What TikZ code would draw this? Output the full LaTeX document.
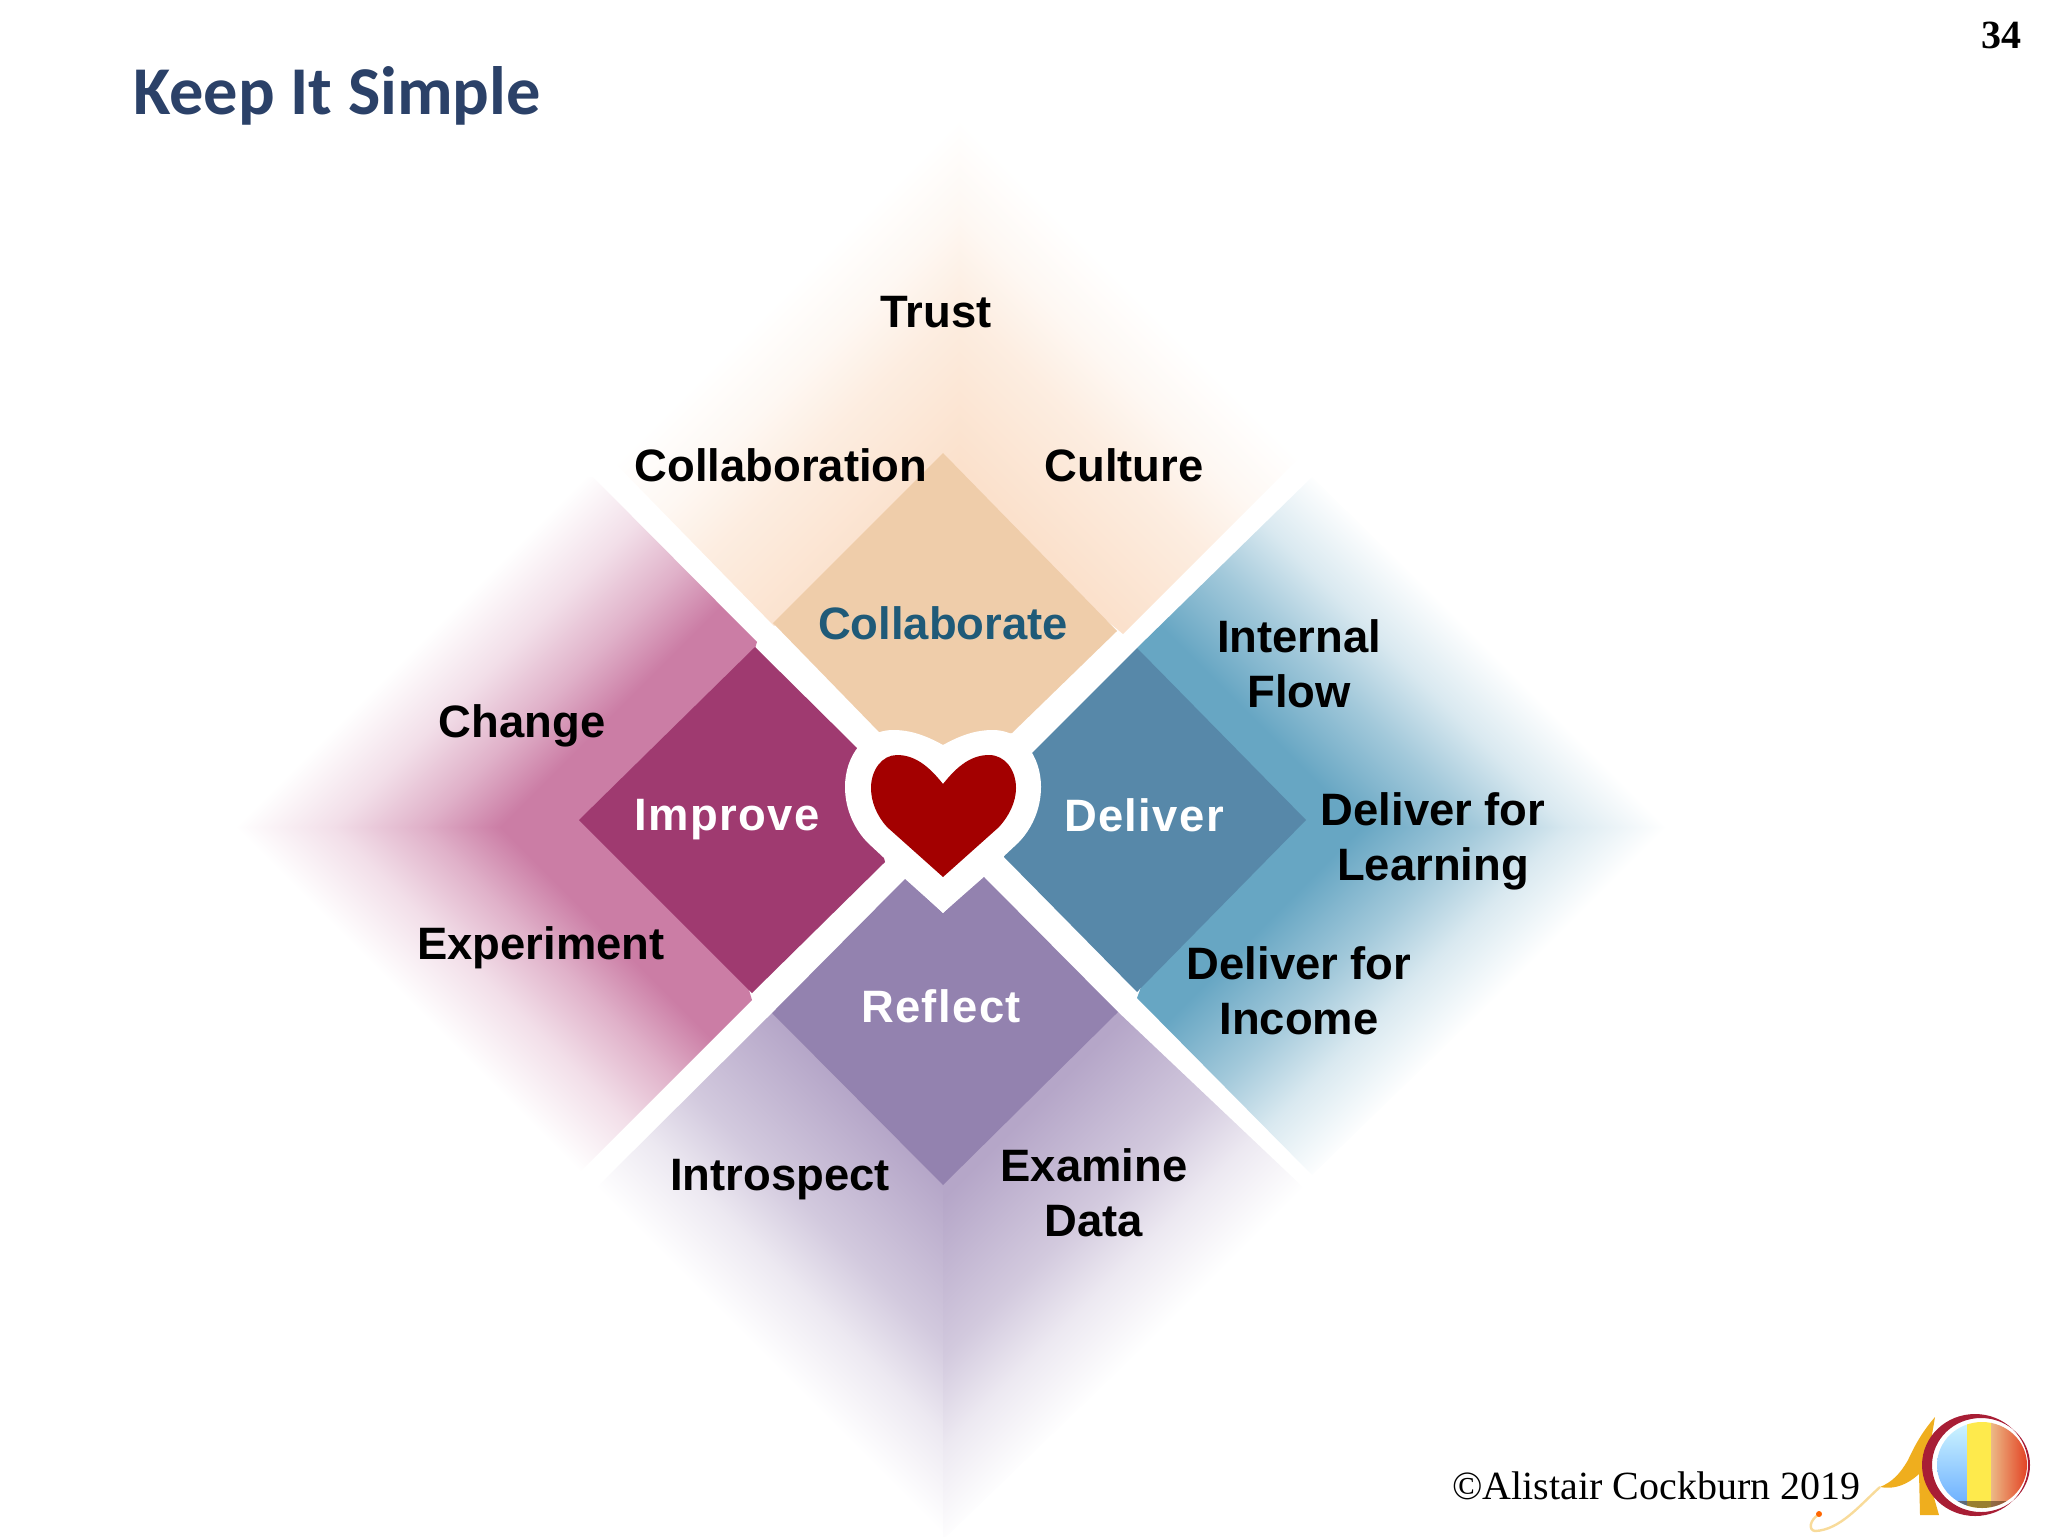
\documentclass[tikz,border=0pt]{standalone}
\usepackage{fontspec}
\setmainfont{Liberation Sans}
\newfontfamily\titlefont{Carlito}
\newfontfamily\footfont{Liberation Serif}
\newfontfamily\spacedfont[LetterSpace=3]{Liberation Sans}
\definecolor{pinkpale}{HTML}{CB7DA5}
\definecolor{pinkdark}{HTML}{9F3A70}
\definecolor{bluepale}{HTML}{67A6C3}
\definecolor{bluedark}{HTML}{5788A9}
\definecolor{sandpale}{HTML}{FBE1CC}
\definecolor{sanddark}{HTML}{EFCDAA}
\definecolor{lilacpale}{HTML}{B5A6C8}
\definecolor{lilacdark}{HTML}{9382AF}
\definecolor{heartred}{HTML}{A30000}
\definecolor{titleblue}{HTML}{2B4168}
\definecolor{collabblue}{HTML}{1F5A78}
\definecolor{logogold}{HTML}{EFAE1E}
\definecolor{logored}{HTML}{A81E35}
\newcommand{\fadeshading}[3]{%
  \pgfdeclareverticalshading{#1}{100bp}{color(0bp)=(white); color(32.5bp)=(white); color(37.5bp)=(#2!25!white); color(42bp)=(#2!60!white); color(#3bp)=(#2); color(100bp)=(#2)}}
\fadeshading{fadepink}{pinkpale}{46}
\fadeshading{fadeblue}{bluepale}{48}
\fadeshading{fadesand}{sandpale}{50}
\fadeshading{fadelilac}{lilacpale}{50}
\newcommand{\fadepart}[4]{%
  \begin{scope}
    \clip #3 -- cycle;
    \shade[shading=#1,shading angle=#2] #4;
  \end{scope}}
\tikzset{
  label/.style={font=\fontsize{22.7}{27.4}\selectfont\bfseries,align=center,inner sep=0pt},
  whitelabel/.style={label,text=white,font=\spacedfont\fontsize{22.7}{27.4}\selectfont\bfseries},
}
\begin{document}
\begin{tikzpicture}[x=0.5pt,y=-0.5pt]
  \useasboundingbox (0,0) rectangle (2048,1536);
  \fadepart{fadesand}{-135}{(774,626) -- (608,456) -- (959,112) -- (959,500)}{(608,112) rectangle (1310,814)}
  \fadepart{fadesand}{135}{(1123,634) -- (1310,447) -- (959,112) -- (959,500)}{(608,112) rectangle (1310,814)}
  \fadepart{fadepink}{-135}{(757,642) -- (589,473) -- (229,827) -- (700,827)}{(229,477) rectangle (929,1177)}
  \fadepart{fadepink}{-45}{(752,1000) -- (575,1177) -- (229,827) -- (700,827)}{(229,477) rectangle (929,1177)}
  \fadepart{fadeblue}{135}{(1137,648) -- (1312,477) -- (1672,827) -- (1200,827)}{(972,477) rectangle (1672,1177)}
  \fadepart{fadeblue}{45}{(1137,998) -- (1312,1175) -- (1672,827) -- (1200,827)}{(972,477) rectangle (1672,1177)}
  \fadepart{fadelilac}{-45}{(772,1013) -- (594,1190) -- (943,1540) -- (943,1100)}{(594,835) rectangle (1306,1547)}
  \fadepart{fadelilac}{45}{(1118,1012) -- (1306,1190) -- (943,1540) -- (943,1100)}{(594,835) rectangle (1306,1547)}
  \fill[sanddark] (943,453) -- (1117,631) -- (1012,733) -- (943,745) -- (880,733) -- (773,623) -- cycle;
  \fill[pinkdark] (755,647) -- (857,748) -- (885,862) -- (752,993) -- (579,820) -- cycle;
  \fill[bluedark] (1137,648) -- (1306,820) -- (1137,992) -- (1004,857) -- (1032,753) -- cycle;
  \fill[lilacdark] (905,879) -- (943,913) -- (984,877) -- (1118,1012) -- (943,1185) -- (772,1013) -- cycle;
  \fill[white] (943,745) .. controls (925,735) and (910,730) .. (893,730) .. controls (865,730) and (845,755) .. (845,787) .. controls (845,810) and (855,830) .. (868,843) -- (943,913) -- (1018,843) .. controls (1031,830) and (1041,810) .. (1041,787) .. controls (1041,755) and (1021,730) .. (993,730) .. controls (976,730) and (961,735) .. cycle;
  \fill[heartred] (943,784) .. controls (928,765) and (914,755) .. (897,755) .. controls (882,755) and (871,770) .. (871,788) .. controls (871,802) and (877,816) .. (887,827) -- (943,877) -- (999,827) .. controls (1009,816) and (1016,802) .. (1016,788) .. controls (1016,770) and (1005,755) .. (989,755) .. controls (972,755) and (958,765) .. cycle;
  \node[anchor=base west,inner sep=0pt,text=titleblue,font=\titlefont\fontsize{34.2}{40}\selectfont\bfseries] (title) at (133,114) {Keep It Simple};
  \node[anchor=center,inner sep=0pt,font=\footfont\fontsize{20}{24}\selectfont\bfseries] (pagenum) at (2001,35) {34};
  \node[label] (trust) at (936,312) {Trust};
  \node[label] (collaboration) at (781,465) {Collaboration};
  \node[label] (culture) at (1124,465) {Culture};
  \node[label,text=collabblue] (collaborate) at (943,623) {Collaborate};
  \node[label] (change) at (522,726) {Change};
  \node[whitelabel] (improve) at (727,820) {Improve};
  \node[label] (experiment) at (541,948) {Experiment};
  \node[whitelabel] (deliver) at (1144,815) {Deliver};
  \node[label] (flow) at (1299,664) {Internal\\Flow};
  \node[label] (learning) at (1433,841) {Deliver for\\Learning};
  \node[label] (income) at (1299,991) {Deliver for\\Income};
  \node[whitelabel] (reflect) at (941,1006) {Reflect};
  \node[label] (introspect) at (780,1180) {Introspect};
  \node[label] (data) at (1094,1193) {Examine\\Data};
  \node[anchor=base west,inner sep=0pt,font=\footfont\fontsize{20}{24}\selectfont] (copyright) at (1452,1499) {©Alistair Cockburn 2019};
  % logo
  \draw[logogold!45!white,line width=1.2pt] (1880,1487) .. controls (1860,1505) and (1840,1530) .. (1815,1531) .. controls (1808,1530) and (1810,1520) .. (1818,1515);
  \fill[logogold] (1935,1417) .. controls (1922,1432) and (1915,1445) .. (1908,1460) .. controls (1900,1474) and (1892,1482) .. (1880,1487) .. controls (1895,1490) and (1908,1484) .. (1919,1474) -- (1920,1515) -- (1939,1515) -- (1926,1470) -- cycle;
  \fill[logored,even odd rule] (1975,1465) ellipse (53 and 51) (1981,1465) ellipse (49 and 47);
  \begin{scope}
    \clip (1982,1465) ellipse (45 and 43);
    \shade[top color=blue!18!cyan!18!white,bottom color=blue!55!cyan!60!white] (1935,1420) rectangle (1968,1510);
    \fill[yellow!85!orange!70!white] (1967,1420) rectangle (1992,1510);
    \shade[left color=orange!45!brown!55!white,right color=red!55!brown] (1991,1420) rectangle (2030,1510);
    \fill[black!55!brown,opacity=0.6] (1935,1501) rectangle (2030,1510);
  \end{scope}
  \fill[orange!80!red] (1819,1514) circle (3);
\end{tikzpicture}
\end{document}
